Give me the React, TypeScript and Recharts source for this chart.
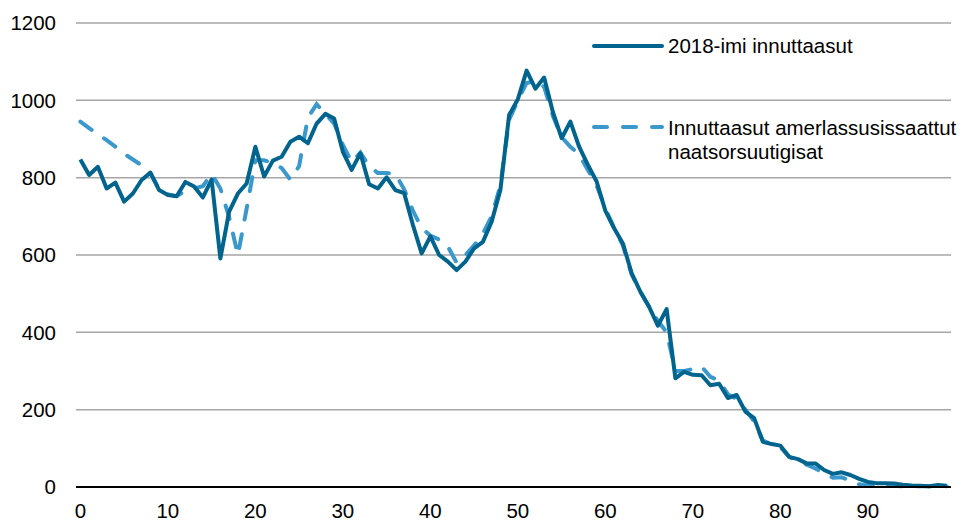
import { LineChart, Line, XAxis, YAxis, CartesianGrid, Legend } from "recharts";

const ages = [
  0, 1, 2, 3, 4, 5, 6, 7, 8, 9, 10, 11, 12, 13, 14, 15, 16, 17, 18, 19,
  20, 21, 22, 23, 24, 25, 26, 27, 28, 29, 30, 31, 32, 33, 34, 35, 36, 37, 38, 39,
  40, 41, 42, 43, 44, 45, 46, 47, 48, 49, 50, 51, 52, 53, 54, 55, 56, 57, 58, 59,
  60, 61, 62, 63, 64, 65, 66, 67, 68, 69, 70, 71, 72, 73, 74, 75, 76, 77, 78, 79,
  80, 81, 82, 83, 84, 85, 86, 87, 88, 89, 90, 91, 92, 93, 94, 95, 96, 97, 98, 99,
];

// 2018-imi innuttaasut
const actual2018 = [
  847, 807, 828, 772, 787, 738, 759, 794, 813, 768,
  755, 752, 789, 777, 749, 795, 591, 712, 759, 785,
  880, 803, 844, 854, 893, 906, 889, 940, 965, 953,
  867, 820, 863, 783, 772, 801, 768, 760, 678, 604,
  648, 600, 583, 561, 583, 617, 634, 686, 768, 962,
  1003, 1077, 1030, 1059, 970, 902, 945, 880, 833, 790,
  714, 669, 630, 553, 505, 466, 417, 460, 281, 298,
  290, 289, 263, 267, 230, 238, 195, 178, 117, 111,
  107, 78, 72, 61, 61, 44, 34, 38, 31, 21,
  13, 10, 10, 9, 6, 4, 3, 2, 5, 3,
];

// Innuttaasut amerlassusissaattut naatsorsuutigisat
const expected = [
  945, 928, 912, 897, 880, 862, 847, 832, 812, 770,
  757, 752, 766, 772, 778, 810, 772, 698, 600, 720,
  845, 845, 838, 825, 795, 830, 955, 990, 965, 940,
  885, 840, 865, 830, 812, 812, 810, 770, 715, 670,
  650, 640, 622, 580, 600, 625, 655, 700, 780, 950,
  1000, 1045, 1050, 1035, 960, 905, 880, 860, 820, 780,
  720, 670, 625, 550, 505, 465, 430, 400, 300, 300,
  305, 311, 285, 275, 240, 228, 200, 170, 120, 110,
  103, 78, 68, 58, 48, 35, 24, 25, 17, 7,
  4, 3, 3, 3, 2, 2, 2, 2, 2, 2,
];

const xTicks = [0, 10, 20, 30, 40, 50, 60, 70, 80, 90];
const yTicks = [0, 200, 400, 600, 800, 1000, 1200];

const seriesNames = ["2018-imi innuttaasut", "Innuttaasut amerlassusissaattut naatsorsuutigisat"];

const data = ages.map((age, i) => ({
  age,
  actual: actual2018[i],
  expected: expected[i],
}));

const DARK = "#00648f";
const LIGHT = "#3a98cc";
const FONT = "'Liberation Sans', Arial, sans-serif";
const FS = 20.5;

function ChartLegend() {
  const text = { position: "absolute" as const, left: 668, fontSize: FS, color: "#000", lineHeight: "24px", whiteSpace: "nowrap" as const };
  return (
    <div style={{ position: "relative", width: 971, height: 0, fontFamily: FONT }}>
      <svg style={{ position: "absolute", left: 588, top: 36 }} width={80} height={20}>
        <line x1={6} y1={10} x2={74} y2={10} stroke={DARK} strokeWidth={4} strokeLinecap="round" />
      </svg>
      <div style={{ ...text, top: 34 }}>{seriesNames[0]}</div>
      <svg style={{ position: "absolute", left: 588, top: 117 }} width={80} height={20}>
        <line x1={6} y1={10} x2={74} y2={10} stroke={LIGHT} strokeWidth={4} strokeLinecap="round" strokeDasharray="13 16" />
      </svg>
      <div style={{ ...text, top: 116 }}>
        Innuttaasut amerlassusissaattut
        <br />
        naatsorsuutigisat
      </div>
    </div>
  );
}

export default function App() {
  return (
    <div style={{ position: "relative", width: 971, height: 521, fontFamily: FONT }}>
      <style>{`body{margin:0}`}</style>
      <LineChart width={971} height={521} data={data} margin={{ top: 23, right: 20, bottom: 0, left: 0 }}>
        <CartesianGrid vertical={false} stroke="#a6a6a6" strokeWidth={1.5} />
        <XAxis
          dataKey="age"
          type="number"
          domain={[-0.5, 99.5]}
          ticks={xTicks}
          height={34}
          tickLine={false}
          tickSize={6}
          tickMargin={10}
          axisLine={{ stroke: "#000", strokeWidth: 2 }}
          tick={{ fill: "#000", fontSize: FS, fontFamily: FONT }}
        />
        <YAxis
          domain={[0, 1200]}
          ticks={yTicks}
          width={76}
          axisLine={false}
          tickLine={false}
          tickSize={6}
          tickMargin={14}
          tick={{ fill: "#000", fontSize: FS, fontFamily: FONT }}
        />
        <Legend content={() => <ChartLegend />} wrapperStyle={{ position: "absolute", left: 0, top: 0, width: 971, height: 0 }} />
        <Line
          type="linear"
          dataKey="expected"
          name={seriesNames[1]}
          stroke={LIGHT}
          strokeWidth={4}
          strokeDasharray="14 15"
          strokeLinecap="round"
          dot={false}
          isAnimationActive={false}
        />
        <Line
          type="linear"
          dataKey="actual"
          name={seriesNames[0]}
          stroke={DARK}
          strokeWidth={4}
          strokeLinejoin="round"
          dot={false}
          isAnimationActive={false}
        />
      </LineChart>
    </div>
  );
}
